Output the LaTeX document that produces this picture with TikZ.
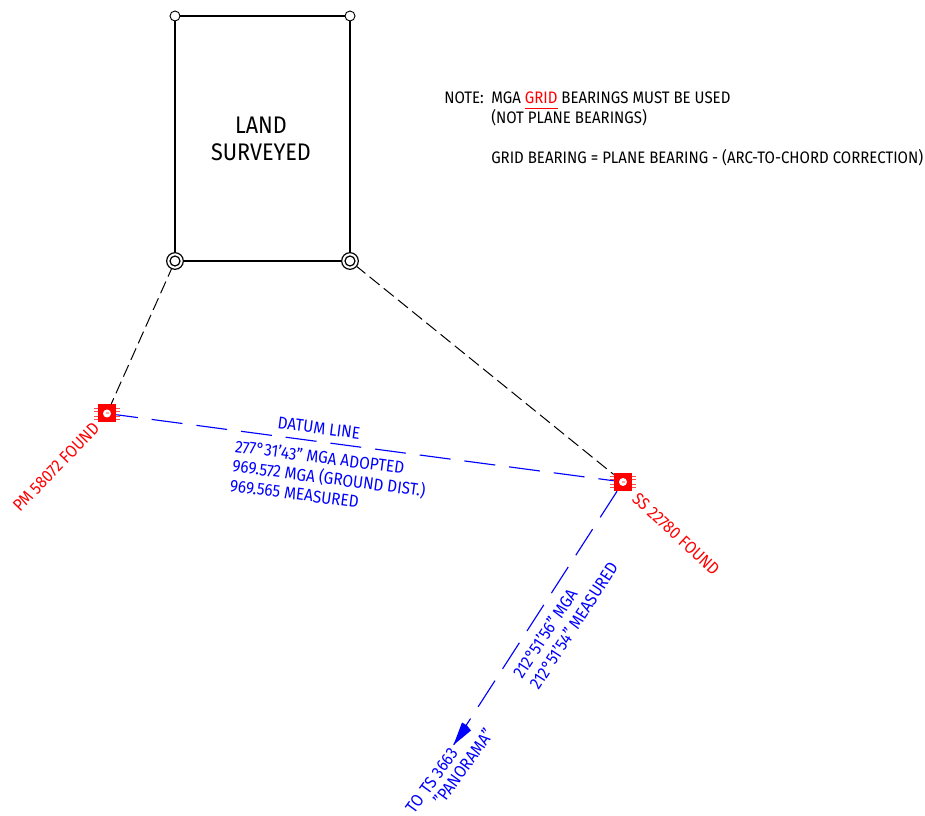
\documentclass[tikz,border=0pt]{standalone}
\usepackage{fontspec}
\setmainfont{Fira Sans}[FakeStretch=0.9]
\usetikzlibrary{calc}
\definecolor{bl}{RGB}{0,0,255}
\definecolor{rd}{RGB}{255,0,0}
\tikzset{
 lbl/.style={inner sep=0pt,align=left,font=\fontsize{12.5}{14.8}\selectfont},
 bluetxt/.style={inner sep=0pt,align=left,font=\fontsize{12.8}{14.8}\selectfont,text=bl},
 redtxt/.style={inner sep=0pt,align=left,font=\fontsize{12.8}{14.8}\selectfont,text=rd},
 boundary/.style={draw=black,line width=1.8pt},
 tie/.style={draw=black,line width=0.75pt,dash pattern=on 9.6pt off 4.1pt},
 datum/.style={draw=bl,line width=0.85pt,dash pattern=on 23.3pt off 10.5pt},
 corner/.style={circle,draw=black,fill=white,line width=0.7pt,minimum size=7.5pt,inner sep=0pt},
 bigcorner/.style={corner,minimum size=12.5pt,line width=0.9pt},
 ring/.style={circle,draw=black,line width=0.9pt,minimum size=7.5pt,inner sep=0pt},
 monument/.style={rectangle,fill=rd,minimum size=13.5pt,inner sep=0pt},
 hole/.style={circle,fill=white,minimum size=6pt,inner sep=0pt},
}
\begin{document}
\begin{tikzpicture}[x=0.75pt,y=-0.75pt]
\useasboundingbox (0,0) rectangle (925,816);
\coordinate (a) at (175,16);
\coordinate (b) at (350,16);
\coordinate (c) at (350,261);
\coordinate (d) at (175,261);
\coordinate (pmc) at (107,413.5);
\coordinate (ssc) at (623,482);
\draw[boundary] (a) -- (b) -- (c) -- (d) -- cycle;
\node[corner] (na) at (a) {};
\node[corner] (nb) at (b) {};
\node[bigcorner] (nc) at (c) {};
\node[bigcorner] (nd) at (d) {};
\node[ring] (rc) at (c) {};
\node[ring] (rd) at (d) {};
\foreach \m in {pmc,ssc}{
  \foreach \o in {-5.5,-2.5,2.5,5.5}{
    \draw[rd!70,line width=0.5pt] ($(\m)+(-13,\o)$) -- ($(\m)+(13,\o)$);
  }
}
\node[monument] (pm) at (pmc) {};
\node[monument] (ss) at (ssc) {};
\node[hole] (pmh) at (pmc) {};
\node[hole] (ssh) at (ssc) {};
\fill[rd!35] ($(pmc)+(-1.5,-1)$) rectangle ($(pmc)+(1.5,1)$);
\fill[rd!35] ($(ssc)+(-1.5,-1)$) rectangle ($(ssc)+(1.5,1)$);
\coordinate (arrow) at (453.5,745);
\draw[tie,dash phase=3.5pt] (nd) -- (pm);
\draw[tie,dash phase=1.5pt] (nc) -- (ss);
\draw[datum,dash phase=7pt] (pm) -- (ss);
\draw[datum] (ss) -- (arrow);
\fill[bl] (arrow) -- (462,722.5) -- (467,725.5) -- (471,730.5) -- cycle;
\node[lbl,font=\fontsize{18}{20.2}\selectfont,align=center] (land) at (261,139) {LAND\\SURVEYED};
\node[lbl,anchor=north west] (note) at (444,92) {NOTE:};
\node[lbl,anchor=north west] (n1) at (491,92) {MGA \textcolor{rd}{GRID} BEARINGS MUST BE USED\\(NOT PLANE BEARINGS)\\[14.8pt]GRID BEARING = PLANE BEARING - (ARC-TO-CHORD CORRECTION)};
\coordinate (ula) at (524.5,108.3);
\coordinate (ulb) at (558,108.3);
\draw[rd,line width=0.7pt] (ula) -- (ulb);
\node[bluetxt,rotate=-7.5] (dl) at (319,428) {DATUM LINE};
\node[bluetxt,rotate=-7.5,anchor=north west] (dt) at (236,439) {277°31'43" MGA ADOPTED\\969.572 MGA (GROUND DIST.)\\969.565 MEASURED};
\node[redtxt,rotate=46] (pmt) at (56,467) {PM 58072 FOUND};
\node[redtxt,rotate=-43] (sst) at (676,534) {SS 22780 FOUND};
\node[bluetxt,rotate=57,anchor=north west] (brg) at (511,673) {212°51'56" MGA\\212°51'54" MEASURED};
\node[bluetxt,rotate=54,anchor=base west] (to) at (414,815) {TO\hspace{1.5pt} TS 3663};
\node[bluetxt,rotate=54,anchor=base west] (pan) at (442,807) {"PANORAMA"};
\end{tikzpicture}
\end{document}
